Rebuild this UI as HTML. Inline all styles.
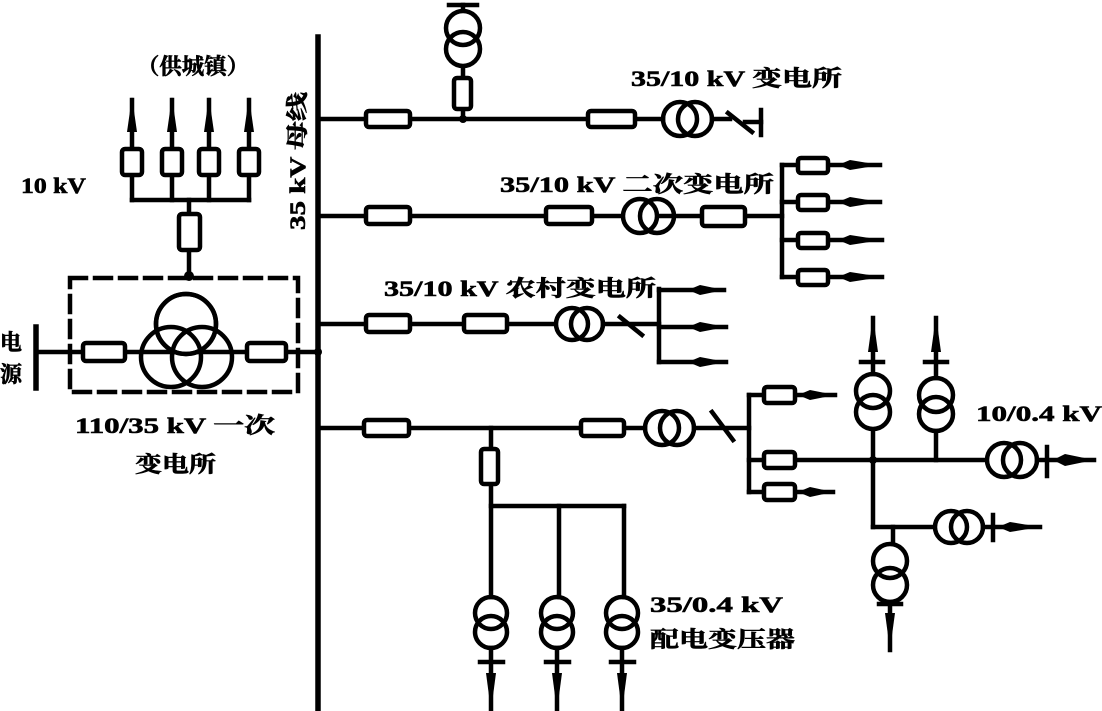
<!DOCTYPE html>
<html><head><meta charset="utf-8"><style>
html,body{margin:0;padding:0;background:#fff;}
svg{display:block;}
text{font-family:"Liberation Serif","Noto Serif CJK SC","Noto Sans CJK SC",serif;font-weight:bold;fill:#000;font-size:22px;stroke:#000;stroke-width:0.6;}
</style></head><body>
<svg width="1102" height="711" viewBox="0 0 1102 711" xmlns="http://www.w3.org/2000/svg">
<g stroke="#000" stroke-width="4.5" fill="none" stroke-linecap="square">
<line x1="318" y1="37" x2="318" y2="711" stroke-width="5.5"/>
<line x1="318" y1="119" x2="663" y2="119"/>
<line x1="712" y1="119" x2="730" y2="119"/>
<line x1="728" y1="113" x2="752" y2="132"/>
<line x1="761" y1="110" x2="761" y2="135"/>
<line x1="745" y1="122" x2="761" y2="122"/>
<line x1="463" y1="67" x2="463" y2="119"/>
<line x1="449" y1="5" x2="477" y2="5"/>
<line x1="463" y1="5" x2="463" y2="10"/>
<circle cx="463" cy="28" r="17"/><circle cx="463" cy="49" r="17"/>
<rect x="454" y="78" width="17" height="31" rx="3" fill="#fff"/>
<rect x="366" y="111" width="44" height="16" rx="3" fill="#fff"/>
<rect x="588" y="111" width="47" height="16" rx="3" fill="#fff"/>
<circle cx="680" cy="119" r="17"/><circle cx="695" cy="119" r="17"/>
<line x1="318" y1="216" x2="782" y2="216"/>
<rect x="366" y="207" width="44" height="17" rx="3" fill="#fff"/>
<rect x="546" y="207" width="46" height="17" rx="3" fill="#fff"/>
<circle cx="640" cy="216" r="17" fill="#fff"/><circle cx="657" cy="216" r="17"/>
<rect x="702" y="207" width="43" height="19" rx="3" fill="#fff"/>
<line x1="782" y1="165" x2="782" y2="277"/>
<g>
<line x1="782" y1="165" x2="880" y2="165"/><rect x="798" y="158" width="30" height="15" rx="3" fill="#fff"/>
<line x1="782" y1="202" x2="880" y2="202"/><rect x="798" y="195" width="30" height="15" rx="3" fill="#fff"/>
<line x1="782" y1="240" x2="882" y2="240"/><rect x="798" y="233" width="30" height="15" rx="3" fill="#fff"/>
<line x1="782" y1="277" x2="882" y2="277"/><rect x="798" y="270" width="30" height="15" rx="3" fill="#fff"/>
</g>
<line x1="318" y1="324" x2="555" y2="324"/>
<rect x="366" y="315" width="44" height="17" rx="3" fill="#fff"/>
<rect x="464" y="315" width="43" height="17" rx="3" fill="#fff"/>
<circle cx="572" cy="324" r="16"/><circle cx="587" cy="324" r="16"/>
<line x1="603" y1="324" x2="659" y2="324"/>
<line x1="620" y1="317" x2="642" y2="335"/>
<line x1="659" y1="289" x2="659" y2="362"/>
<line x1="659" y1="290" x2="724" y2="290"/>
<line x1="659" y1="327" x2="726" y2="327"/>
<line x1="659" y1="362" x2="726" y2="362"/>
<line x1="318" y1="428" x2="645" y2="428"/>
<rect x="364" y="420" width="45" height="16" rx="3" fill="#fff"/>
<rect x="581" y="420" width="43" height="16" rx="3" fill="#fff"/>
<circle cx="662" cy="428" r="17"/><circle cx="677" cy="428" r="17"/>
<line x1="694" y1="428" x2="749" y2="428"/>
<line x1="712" y1="412" x2="733" y2="440"/>
<line x1="749" y1="395" x2="749" y2="492"/>
<line x1="749" y1="395" x2="835" y2="395"/><rect x="764" y="387" width="31" height="16" rx="3" fill="#fff"/>
<line x1="749" y1="460" x2="986" y2="460"/><rect x="764" y="452" width="31" height="16" rx="3" fill="#fff"/>
<line x1="749" y1="492" x2="833" y2="492"/><rect x="764" y="484" width="31" height="16" rx="3" fill="#fff"/>
<line x1="873" y1="430" x2="873" y2="527"/>
<line x1="873" y1="527" x2="934" y2="527"/>
<circle cx="873" cy="391" r="17"/><circle cx="873" cy="412" r="17"/>
<line x1="861" y1="362" x2="883" y2="362"/><line x1="873" y1="318" x2="873" y2="374"/>
<circle cx="936" cy="395" r="17"/><circle cx="936" cy="414" r="17"/>
<line x1="925" y1="362" x2="947" y2="362"/><line x1="936" y1="318" x2="936" y2="378"/>
<line x1="936" y1="431" x2="936" y2="460"/>
<circle cx="1004" cy="460" r="17"/><circle cx="1020" cy="460" r="17"/>
<line x1="1037" y1="460" x2="1094" y2="460"/><line x1="1047" y1="447" x2="1047" y2="476"/>
<circle cx="951" cy="527" r="16"/><circle cx="967" cy="527" r="16"/>
<line x1="983" y1="527" x2="1040" y2="527"/><line x1="993" y1="515" x2="993" y2="540"/>
<line x1="893" y1="527" x2="893" y2="543"/>
<circle cx="890" cy="561" r="17"/><circle cx="890" cy="585" r="17"/>
<line x1="890" y1="602" x2="890" y2="650"/><line x1="879" y1="604" x2="901" y2="604"/>
<line x1="491" y1="428" x2="491" y2="597"/>
<rect x="481" y="449" width="17" height="35" rx="3" fill="#fff"/>
<line x1="491" y1="506" x2="624" y2="506"/>
<line x1="559" y1="506" x2="559" y2="597"/>
<line x1="624" y1="506" x2="624" y2="597"/>
<g>
<circle cx="491" cy="613" r="16"/><circle cx="491" cy="632" r="16"/>
<circle cx="557" cy="613" r="16"/><circle cx="557" cy="632" r="16"/>
<circle cx="622" cy="613" r="16"/><circle cx="622" cy="632" r="16"/>
<line x1="491" y1="648" x2="491" y2="711"/><line x1="480" y1="662" x2="503" y2="662"/>
<line x1="557" y1="648" x2="557" y2="711"/><line x1="546" y1="662" x2="569" y2="662"/>
<line x1="622" y1="648" x2="622" y2="711"/><line x1="611" y1="662" x2="634" y2="662"/>
</g>
<line x1="36" y1="327" x2="36" y2="388" stroke-width="5.5"/>
<line x1="36" y1="352" x2="318" y2="352"/>
<rect x="70" y="278" width="228" height="114" stroke-dasharray="16,9"/>
<rect x="83" y="343" width="42" height="18" rx="3" fill="#fff"/>
<rect x="247" y="343" width="39" height="18" rx="3" fill="#fff"/>
<circle cx="186" cy="324" r="30" fill="#fff"/>
<circle cx="171" cy="357" r="30"/>
<circle cx="202" cy="357" r="30"/>
<circle cx="186" cy="324" r="30"/>
<line x1="189" y1="200" x2="189" y2="278"/>
<rect x="179" y="214" width="21" height="36" rx="3" fill="#fff"/>
<line x1="132" y1="200" x2="249" y2="200"/>
<line x1="132" y1="100" x2="132" y2="200"/>
<line x1="172" y1="100" x2="172" y2="200"/>
<line x1="209" y1="100" x2="209" y2="200"/>
<line x1="249" y1="100" x2="249" y2="200"/>
<rect x="122" y="149" width="20" height="26" rx="3" fill="#fff"/>
<rect x="162" y="149" width="20" height="26" rx="3" fill="#fff"/>
<rect x="199" y="149" width="20" height="26" rx="3" fill="#fff"/>
<rect x="239" y="149" width="20" height="26" rx="3" fill="#fff"/>
</g>
<g fill="#000">
<circle cx="318" cy="352" r="4"/><circle cx="189" cy="276" r="5"/><circle cx="463" cy="119" r="4"/><circle cx="873" cy="460" r="4"/>
<polygon points="127,132 132,97 137,132"/><polygon points="167,132 172,97 177,132"/>
<polygon points="204,132 209,97 214,132"/><polygon points="244,132 249,97 254,132"/>
<polygon points="868,352 873,316 878,352"/><polygon points="931,352 936,316 941,352"/>
<polygon points="486,673 491,711 496,673"/><polygon points="552,673 557,711 562,673"/><polygon points="617,673 622,711 627,673"/>
<polygon points="885,613 890,650 895,613"/>
<polygon points="838,165 850,160 880,165 850,170"/><polygon points="838,202 850,197 880,202 850,207"/>
<polygon points="838,240 850,235 882,240 850,245"/><polygon points="838,277 850,272 882,277 850,282"/>
<polygon points="688,290 700,285 724,290 700,295"/><polygon points="688,327 700,322 726,327 700,332"/><polygon points="688,362 700,357 726,362 700,367"/>
<polygon points="798,395 810,390 835,395 810,400"/><polygon points="798,492 810,487 833,492 810,497"/>
<polygon points="1053,460 1065,454 1094,460 1065,466"/><polygon points="998,527 1010,522 1040,527 1010,532"/>
</g>
<text x="137" y="74" textLength="112" lengthAdjust="spacingAndGlyphs">（供城镇）</text>
<text x="21" y="193" textLength="65" lengthAdjust="spacingAndGlyphs">10 kV</text>
<text transform="translate(305,230) rotate(-90)" textLength="138" lengthAdjust="spacingAndGlyphs">35 kV 母线</text>
<text x="0" y="350" font-size="24">电</text>
<text x="0" y="382" font-size="24">源</text>
<text x="75" y="433" textLength="200" lengthAdjust="spacingAndGlyphs">110/35 kV 一次</text>
<text x="135" y="472" textLength="81" lengthAdjust="spacingAndGlyphs">变电所</text>
<text x="631" y="86" textLength="211" lengthAdjust="spacingAndGlyphs">35/10 kV 变电所</text>
<text x="500" y="192" textLength="274" lengthAdjust="spacingAndGlyphs">35/10 kV 二次变电所</text>
<text x="384" y="296" textLength="272" lengthAdjust="spacingAndGlyphs">35/10 kV 农村变电所</text>
<text x="976" y="421" textLength="126" lengthAdjust="spacingAndGlyphs">10/0.4 kV</text>
<text x="650" y="612" textLength="133" lengthAdjust="spacingAndGlyphs">35/0.4 kV</text>
<text x="650" y="647" textLength="145" lengthAdjust="spacingAndGlyphs">配电变压器</text>
</svg>
</body></html>
